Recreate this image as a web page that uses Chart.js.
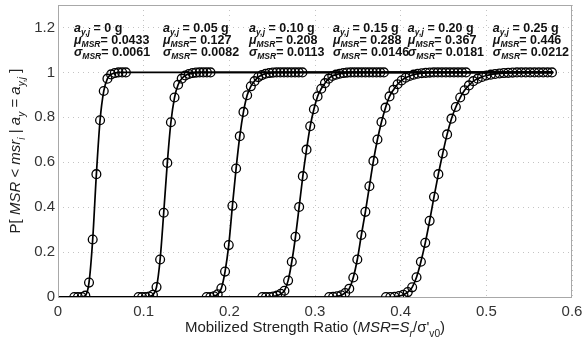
<!DOCTYPE html>
<html>
<head>
<meta charset="utf-8">
<script src="https://cdn.jsdelivr.net/npm/chart.js@4.4.1/dist/chart.umd.min.js"></script>
<style>
  html, body { margin: 0; padding: 0; background: #fff; }
  #wrap { width: 583px; height: 341px; }
</style>
</head>
<body>
<div id="wrap"><canvas id="msrChart"></canvas></div>
<script>
// labels above each curve
const groundAccel = ['0', '0.05', '0.10', '0.15', '0.20', '0.25'];
const muMSR = ['0.0433', '0.127', '0.208', '0.288', '0.367', '0.446'];
const sigmaMSR = ['0.0061', '0.0082', '0.0113', '0.0146', '0.0181', '0.0212'];

const xTickLabels = ['0', '0.1', '0.2', '0.3', '0.4', '0.5', '0.6'];
const yTickLabels = ['0', '0.2', '0.4', '0.6', '0.8', '1', '1.2'];

// markers (MSR, probability)
const msr1 = [0.0190, 0.0233, 0.0276, 0.0319, 0.0362, 0.0405, 0.0448, 0.0491, 0.0534, 0.0577, 0.0620, 0.0663, 0.0706, 0.0749, 0.0792];
const prob1 = [0, 0, 0, 0.006, 0.064, 0.256, 0.547, 0.787, 0.917, 0.972, 0.991, 0.997, 1, 1, 1];

const msr2 = [0.0940, 0.0982, 0.1024, 0.1066, 0.1108, 0.1150, 0.1192, 0.1234, 0.1276, 0.1318, 0.1360, 0.1402, 0.1444, 0.1486, 0.1528, 0.1570, 0.1612, 0.1654, 0.1696, 0.1738, 0.1780];
const prob2 = [0, 0, 0, 0.002, 0.010, 0.044, 0.167, 0.375, 0.597, 0.778, 0.888, 0.945, 0.972, 0.986, 0.993, 0.997, 0.999, 1, 1, 1, 1];

const msr3 = [0.1735, 0.1778, 0.1821, 0.1864, 0.1907, 0.1950, 0.1993, 0.2036, 0.2079, 0.2122, 0.2165, 0.2208, 0.2251, 0.2294, 0.2337, 0.2380, 0.2423, 0.2466, 0.2509, 0.2552, 0.2595, 0.2638, 0.2681, 0.2724, 0.2767, 0.2810, 0.2853];
const prob3 = [0, 0, 0.003, 0.012, 0.039, 0.113, 0.231, 0.406, 0.572, 0.716, 0.824, 0.898, 0.938, 0.961, 0.979, 0.988, 0.994, 0.997, 0.999, 1, 1, 1, 1, 1, 1, 1, 1];

const msr4 = [0.2385, 0.2428, 0.2471, 0.2514, 0.2557, 0.2600, 0.2643, 0.2686, 0.2729, 0.2772, 0.2815, 0.2858, 0.2901, 0.2944, 0.2987, 0.3030, 0.3073, 0.3116, 0.3159, 0.3202, 0.3245, 0.3288, 0.3331, 0.3374, 0.3417, 0.3460, 0.3503, 0.3546, 0.3589, 0.3632, 0.3675, 0.3718, 0.3761, 0.3804];
const prob4 = [0, 0, 0, 0.002, 0.006, 0.014, 0.028, 0.073, 0.157, 0.268, 0.401, 0.538, 0.656, 0.760, 0.836, 0.893, 0.927, 0.952, 0.972, 0.984, 0.990, 0.994, 0.997, 0.999, 1, 1, 1, 1, 1, 1, 1, 1, 1, 1];

const msr5 = [0.3165, 0.3212, 0.3259, 0.3306, 0.3353, 0.3400, 0.3447, 0.3494, 0.3541, 0.3588, 0.3635, 0.3682, 0.3729, 0.3776, 0.3823, 0.3870, 0.3917, 0.3964, 0.4011, 0.4058, 0.4105, 0.4152, 0.4199, 0.4246, 0.4293, 0.4340, 0.4387, 0.4434, 0.4481, 0.4528, 0.4575, 0.4622, 0.4669, 0.4716, 0.4763];
const prob5 = [0, 0.001, 0.003, 0.008, 0.018, 0.037, 0.087, 0.167, 0.276, 0.379, 0.493, 0.606, 0.701, 0.779, 0.843, 0.893, 0.923, 0.947, 0.964, 0.976, 0.984, 0.990, 0.994, 0.996, 0.998, 0.999, 1, 1, 1, 1, 1, 1, 1, 1, 1];

const msr6 = [0.3828, 0.3879, 0.3930, 0.3981, 0.4032, 0.4083, 0.4134, 0.4185, 0.4236, 0.4287, 0.4338, 0.4389, 0.4440, 0.4491, 0.4542, 0.4593, 0.4644, 0.4695, 0.4746, 0.4797, 0.4848, 0.4899, 0.4950, 0.5001, 0.5052, 0.5103, 0.5154, 0.5205, 0.5256, 0.5307, 0.5358, 0.5409, 0.5460, 0.5511, 0.5562, 0.5613, 0.5664, 0.5715, 0.5766];
const prob6 = [0, 0, 0.001, 0.004, 0.010, 0.022, 0.043, 0.088, 0.157, 0.241, 0.339, 0.446, 0.547, 0.639, 0.724, 0.794, 0.846, 0.888, 0.920, 0.942, 0.961, 0.972, 0.980, 0.986, 0.990, 0.993, 0.995, 0.997, 0.998, 0.999, 1, 1, 1, 1, 1, 1, 1, 1, 1];

// each fitted curve runs from here to here
const curveStart = [0, 0];
const curveEnd = [0.578, 1];

const FONT = '"Liberation Sans", Arial, sans-serif';

function buildCurve(xs, ps) {
    const pts = [{ x: curveStart[0], y: curveStart[1] }];
    xs.forEach((x, i) => pts.push({ x: x, y: ps[i] }));
    pts.push({ x: curveEnd[0], y: curveEnd[1] });
    return {
        data: pts,
        showLine: true,
        borderColor: '#000',
        borderWidth: 1.7,
        cubicInterpolationMode: 'monotone',
        pointStyle: 'circle',
        pointRadius: ctx => (ctx.dataIndex === 0 || ctx.dataIndex === pts.length - 1) ? 0 : 4.4,
        pointBorderColor: '#000',
        pointBackgroundColor: 'rgba(0,0,0,0)',
        pointBorderWidth: 1.3
    };
}

// rich text: parts = [{t, it, sub}]
function richWidth(ctx, parts, size, bold) {
    let w = 0;
    parts.forEach(p => {
        const fs = p.sub ? size * 0.68 : size;
        ctx.font = (p.it ? 'italic ' : '') + (bold ? 'bold ' : '') + fs + 'px ' + FONT;
        w += ctx.measureText(p.t).width;
    });
    return w;
}

function drawRich(ctx, parts, x, y, size, bold) {
    let cx = x;
    parts.forEach(p => {
        const fs = p.sub ? size * 0.68 : size;
        ctx.font = (p.it ? 'italic ' : '') + (bold ? 'bold ' : '') + fs + 'px ' + FONT;
        ctx.fillText(p.t, cx, y + (p.sub ? size * 0.3 : 0));
        cx += ctx.measureText(p.t).width;
    });
}

const labelX = [0.0187, 0.1225, 0.2229, 0.3210, 0.4084, 0.5076];

const extras = {
    id: 'extras',
    afterDraw(chart) {
        const ctx = chart.ctx;
        const a = chart.chartArea;
        const xs = chart.scales.x;
        ctx.save();
        // box
        ctx.strokeStyle = '#a8a8a8';
        ctx.lineWidth = 1;
        ctx.strokeRect(a.left + 0.5, a.top + 0.5, a.right - a.left - 1, a.bottom - a.top);

        // parameter labels
        ctx.fillStyle = '#111';
        ctx.textBaseline = 'alphabetic';
        ctx.textAlign = 'left';
        groundAccel.forEach((g, i) => {
            const px = xs.getPixelForValue(labelX[i]);
            drawRich(ctx, [{ t: 'a', it: true }, { t: 'y,j', it: true, sub: true }, { t: ' = ' + g + ' g' }], px, 31.5, 12.5, true);
            drawRich(ctx, [{ t: 'μ', it: true }, { t: 'MSR', it: true, sub: true }, { t: '= ' + muMSR[i] }], px, 43.5, 12.5, true);
            drawRich(ctx, [{ t: 'σ', it: true }, { t: 'MSR', it: true, sub: true }, { t: '= ' + sigmaMSR[i] }], px, 55.5, 12.5, true);
        });

        // x title
        ctx.fillStyle = '#222';
        const xt = [
            { t: 'Mobilized Strength Ratio (' }, { t: 'MSR', it: true }, { t: '=' },
            { t: 'S', it: true }, { t: 'r', it: true, sub: true }, { t: '/σ\'' },
            { t: 'v0', sub: true }, { t: ')' }
        ];
        const xw = richWidth(ctx, xt, 15, false);
        drawRich(ctx, xt, (a.left + a.right) / 2 - xw / 2, 332, 15, false);

        // y title
        const yt = [
            { t: 'P[ ' }, { t: 'MSR', it: true }, { t: ' < ' }, { t: 'msr', it: true },
            { t: 'i', it: true, sub: true }, { t: ' | ' }, { t: 'a', it: true },
            { t: 'y', it: true, sub: true }, { t: ' = ' }, { t: 'a', it: true },
            { t: 'y,j', it: true, sub: true }, { t: ' ]' }
        ];
        const yw = richWidth(ctx, yt, 15, false);
        ctx.translate(20, (a.top + a.bottom) / 2);
        ctx.rotate(-Math.PI / 2);
        drawRich(ctx, yt, -yw / 2, 0, 15, false);
        ctx.restore();
    }
};

const gridOpts = { color: '#c4c4c4', lineWidth: 1, drawTicks: false };
const borderOpts = { display: false, dash: [1, 4] };

new Chart(document.getElementById('msrChart'), {
    type: 'scatter',
    data: {
        datasets: [
            buildCurve(msr1, prob1),
            buildCurve(msr2, prob2),
            buildCurve(msr3, prob3),
            buildCurve(msr4, prob4),
            buildCurve(msr5, prob5),
            buildCurve(msr6, prob6)
        ]
    },
    options: {
        responsive: true,
        maintainAspectRatio: false,
        animation: false,
        events: [],
        layout: { padding: { left: 0, right: 11, top: 5, bottom: 0 } },
        plugins: { legend: { display: false }, tooltip: { enabled: false } },
        scales: {
            x: {
                type: 'linear',
                min: 0,
                max: 0.6,
                grid: gridOpts,
                border: borderOpts,
                ticks: {
                    stepSize: 0.1,
                    padding: 6,
                    color: '#333',
                    maxRotation: 0,
                    autoSkip: false,
                    font: { family: FONT, size: 15 },
                    callback: (v, i) => xTickLabels[i]
                },
                afterFit: s => { s.height = 44; s.paddingLeft = 0; s.paddingRight = 0; }
            },
            y: {
                type: 'linear',
                min: 0,
                max: 1.3,
                grid: gridOpts,
                border: borderOpts,
                ticks: {
                    stepSize: 0.2,
                    includeBounds: false,
                    padding: 3,
                    color: '#333',
                    font: { family: FONT, size: 15 },
                    callback: (v, i) => yTickLabels[i]
                },
                afterFit: s => { s.width = 58; s.paddingTop = 0; s.paddingBottom = 0; }
            }
        }
    },
    plugins: [extras]
});
</script>
</body>
</html>
